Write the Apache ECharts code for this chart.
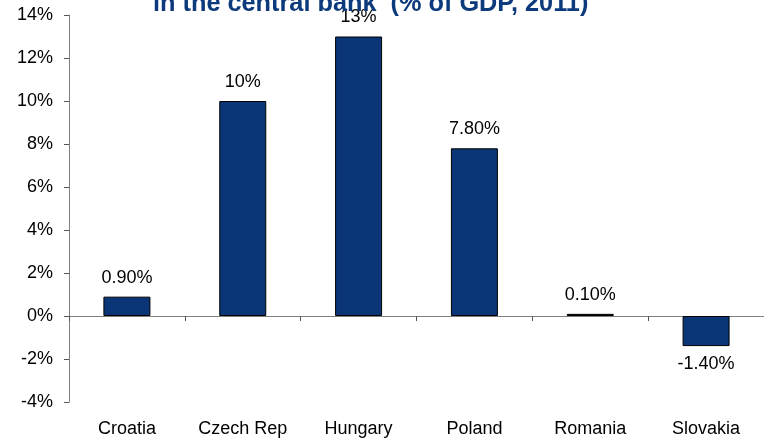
<!DOCTYPE html>
<html>
<head>
<meta charset="utf-8">
<script src="https://cdn.jsdelivr.net/npm/echarts@6/dist/echarts.min.js"></script>
<style>
  html, body { margin: 0; padding: 0; background: #ffffff; }
  #chart { width: 764px; height: 439px; }
</style>
</head>
<body>
<div id="chart"></div>
<script>
// Countries and their values (% of GDP, 2011)
const categories = ['Croatia', 'Czech Rep', 'Hungary', 'Poland', 'Romania', 'Slovakia'];
const values = [0.9, 10, 13, 7.8, 0.1, -1.4];
const valueLabels = ['0.90%', '10%', '13%', '7.80%', '0.10%', '-1.40%'];
const yTicks = { min: -4, max: 14, step: 2 };
const titleText = 'in the central bank  (% of GDP, 2011)';

const font = 'Liberation Sans, Arial, sans-serif';
const chart = echarts.init(document.getElementById('chart'));

chart.setOption({
  animation: false,
  title: {
    text: titleText,
    left: 148,
    top: -13,
    textStyle: { fontFamily: font, fontSize: 25.3, fontWeight: 'bold', color: '#0c3a7c' }
  },
  grid: { left: 69, right: -1, top: 15, bottom: 37, containLabel: false },
  xAxis: [
    {
      // category labels along the bottom edge
      type: 'category',
      data: categories,
      position: 'bottom',
      axisLine: { show: false, onZero: false },
      axisTick: { show: false },
      axisLabel: { fontFamily: font, fontSize: 18, color: '#000', margin: 18 }
    },
    {
      // zero line with boundary ticks
      type: 'category',
      data: categories,
      position: 'bottom',
      axisLine: { show: true, onZero: true, lineStyle: { color: '#7f7f7f', width: 1 } },
      axisTick: { show: true, length: 5, lineStyle: { color: '#555' } },
      axisLabel: { show: false }
    }
  ],
  yAxis: {
    type: 'value',
    min: yTicks.min,
    max: yTicks.max,
    interval: yTicks.step,
    axisLine: { show: true, lineStyle: { color: '#7f7f7f', width: 1 } },
    axisTick: { show: true, length: 5, lineStyle: { color: '#555' } },
    splitLine: { show: false },
    axisLabel: {
      fontFamily: font, fontSize: 18, color: '#000', margin: 16,
      formatter: v => v + '%'
    }
  },
  series: [{
    type: 'bar',
    xAxisIndex: 1,
    barWidth: 47,
    data: values.map((v, i) => ({
      value: v,
      label: {
        show: true,
        position: v < 0 ? 'bottom' : 'top',
        distance: v < 0 ? 9 : 10,
        formatter: valueLabels[i],
        fontFamily: font, fontSize: 18, color: '#000'
      }
    })),
    itemStyle: { color: '#0a3576', borderColor: '#000', borderWidth: 1 }
  }]
});
</script>
</body>
</html>
